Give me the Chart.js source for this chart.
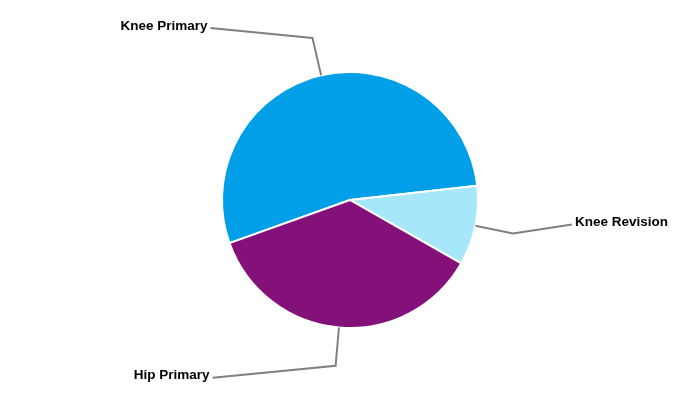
<!DOCTYPE html>
<html>
<head>
<meta charset="utf-8">
<script src="https://cdn.jsdelivr.net/npm/chart.js@4/dist/chart.umd.min.js"></script>
<style>
  html, body { margin: 0; padding: 0; background: #ffffff; }
  #wrap { width: 700px; height: 400px; position: relative; }
</style>
</head>
<body>
<div id="wrap"><canvas id="c"></canvas></div>
<script>
const categories = ["Knee Primary", "Knee Revision", "Hip Primary"];
const shares = [53.7, 10.0, 36.3];
const sliceColors = ["#009FE8", "#A6E7FC", "#84107A"];

// leader-line label end offsets relative to the elbow point (styling only)
const labelOffsets = [[-102, -10], [59, -9], [-123, 12]];

const leaderLabels = {
  id: "leaderLabels",
  afterDatasetsDraw(chart) {
    const ctx = chart.ctx;
    const meta = chart.getDatasetMeta(0);
    ctx.save();
    meta.data.forEach((arc, i) => {
      const p = arc.getProps(["x", "y", "startAngle", "endAngle", "outerRadius"], true);
      const mid = (p.startAngle + p.endAngle) / 2;
      const cx = Math.cos(mid), sy = Math.sin(mid);
      const r0 = p.outerRadius;
      const r1 = p.outerRadius * 1.3;
      const x0 = p.x + cx * r0, y0 = p.y + sy * r0;
      const x1 = p.x + cx * r1, y1 = p.y + sy * r1;
      const x2 = x1 + labelOffsets[i][0], y2 = y1 + labelOffsets[i][1];
      ctx.strokeStyle = "#808080";
      ctx.lineWidth = 2;
      ctx.beginPath();
      ctx.moveTo(x0, y0);
      ctx.lineTo(x1, y1);
      ctx.lineTo(x2, y2);
      ctx.stroke();
      ctx.fillStyle = "#000000";
      ctx.font = "bold 13.5px 'Liberation Sans', Arial, sans-serif";
      ctx.textBaseline = "middle";
      const left = x2 < x1;
      ctx.textAlign = left ? "right" : "left";
      ctx.fillText(chart.data.labels[i], x2 + (left ? -3 : 3), y2 - 2);
    });
    ctx.restore();
  }
};

new Chart(document.getElementById("c"), {
  type: "pie",
  data: {
    labels: categories,
    datasets: [{
      data: shares,
      backgroundColor: sliceColors,
      borderColor: "#ffffff",
      borderWidth: 2
    }]
  },
  options: {
    responsive: true,
    maintainAspectRatio: false,
    animation: false,
    rotation: 250.3,
    layout: { padding: { top: 71, bottom: 71, left: 0, right: 0 } },
    plugins: {
      legend: { display: false },
      tooltip: { enabled: false }
    }
  },
  plugins: [leaderLabels]
});
</script>
</body>
</html>
